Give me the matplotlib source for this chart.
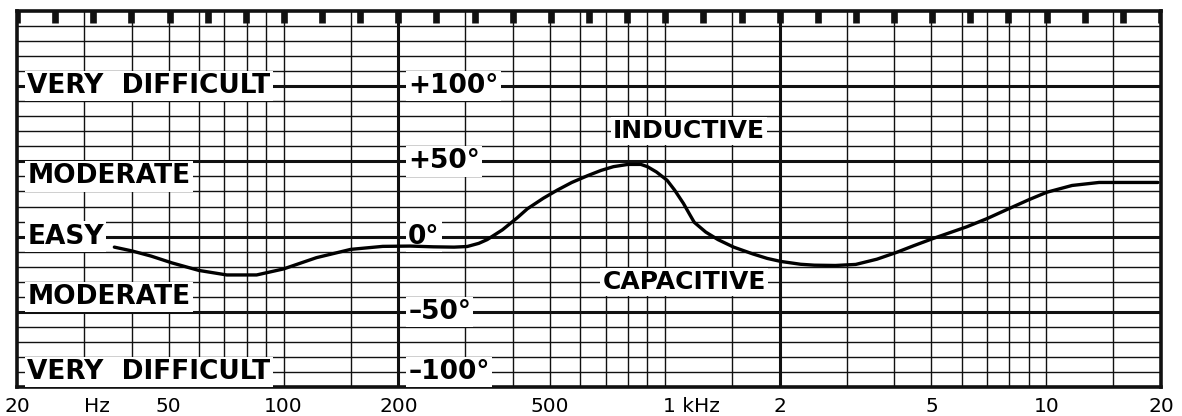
import numpy as np
import matplotlib
matplotlib.use("Agg")
import matplotlib.pyplot as plt
import matplotlib.transforms as mtransforms

# Phase response (Hz, degrees)
freq = [36, 40, 45, 51, 60, 71, 85, 100, 122, 150, 182, 215, 247, 280, 303,
        325, 342, 375, 410, 436, 480, 523, 570, 627, 680, 733, 800, 865,
        900, 950, 1013, 1060, 1119, 1160, 1194, 1280, 1378, 1515, 1700,
        1855, 2012, 2270, 2465, 2800, 3166, 3600, 4050, 4500, 5020, 6187,
        7000, 7890, 9000, 10040, 11690, 13760, 16000, 19630]
phase = [-7, -9.5, -13, -17.5, -22.5, -25.5, -25.5, -21.5, -14, -8.5, -6.5,
         -6.3, -6.8, -7, -6.6, -4.5, -2, 4.5, 12.5, 18.5, 25.5, 31, 36, 40.5,
         44, 46.5, 48, 48, 46.5, 43, 37.5, 31, 22, 15, 9.5, 3, -2, -7, -11.5,
         -14.5, -16.5, -18.4, -19, -19.2, -18.5, -15, -10.5, -6, -1.5, 6.5,
         12, 18, 24.5, 29.5, 34, 36, 36, 36]

# grid
grid_decades = [20, 200, 2000]
grid_steps = [1.5, 2, 2.5, 3, 3.5, 4, 4.5, 5, 7.5]
major_freqs = [200, 2000]
minor_deg = list(range(-90, 150, 10))
major_deg = [-50, 0, 50, 100]

# labels
xtick_freqs = [20, 32.4, 50, 100, 200, 500, 1000, 2000, 5000, 10000, 20000]
xtick_labels = ["20", "Hz", "50", "100", "200", "500", "1 kHz", "2", "5", "10", "20"]
left_labels = ["VERY  DIFFICULT", "MODERATE", "EASY", "MODERATE", "VERY  DIFFICULT"]
left_label_deg = [100, 40, 0, -40, -90]
mid_labels = ["+100°", "+50°", "0°", "\u2013" + "50°", "\u2013" + "100°"]
mid_label_deg = [100, 50, 0, -50, -90]

fig = plt.figure(figsize=(11.82, 4.16), dpi=100)
ax = fig.add_axes([17 / 1182, 29 / 416, 1144 / 1182, 376 / 416])
ax.set_xscale("log")
ax.set_xlim(20, 20000)
ax.set_ylim(-100, 150)

ink = "#111111"
vfreqs = [d * s for d in grid_decades for s in grid_steps]
for f in vfreqs:
    ax.axvline(f, color=ink, lw=1.0, zorder=1)
for f in major_freqs:
    ax.axvline(f, color=ink, lw=2.2, zorder=2)
for d in minor_deg:
    ax.axhline(d, color=ink, lw=1.0, zorder=1)
for d in major_deg:
    ax.axhline(d, color=ink, lw=2.2, zorder=2)

# chart-paper sprocket marks along the top edge
marks = 20 * 10 ** (np.arange(0, 31) / 10)
ax.vlines(marks, 142, 150, color=ink, lw=4.8, zorder=3, capstyle="butt")

for s in ax.spines.values():
    s.set_linewidth(2.6)
    s.set_color(ink)

# the phase curve
ax.plot(freq, phase, color="black", lw=2.4, zorder=6,
        solid_capstyle="round", solid_joinstyle="round")

box = dict(facecolor="white", edgecolor="none", pad=1.5)
tr = mtransforms.blended_transform_factory(ax.transAxes, ax.transData)
for txt, d in zip(left_labels, left_label_deg):
    ax.text(0.009, d, txt, transform=tr, ha="left", va="center",
            fontsize=19, fontweight="bold", bbox=box, zorder=4)
for txt, d in zip(mid_labels, mid_label_deg):
    ax.text(0.342, d, txt, transform=tr, ha="left", va="center",
            fontsize=19, fontweight="bold", bbox=box, zorder=4)
ax.text(0.587, 70, "INDUCTIVE", transform=tr, ha="center", va="center",
        fontsize=18, fontweight="bold", bbox=box, zorder=4)
ax.text(0.583, -30, "CAPACITIVE", transform=tr, ha="center", va="center",
        fontsize=18, fontweight="bold", bbox=box, zorder=4)

ax.set_xticks(xtick_freqs)
ax.set_xticklabels(xtick_labels)
ax.minorticks_off()
ax.set_yticks([])
ax.tick_params(axis="x", length=0, pad=7, labelsize=14.5, colors="black")
for lab in ax.get_xticklabels():
    if lab.get_text() == "1 kHz":
        lab.set_horizontalalignment("left")
        lab.set_transform(lab.get_transform() + mtransforms.ScaledTranslation(-2 / 100, 0, fig.dpi_scale_trans))

fig.savefig("out.png", dpi=100)
